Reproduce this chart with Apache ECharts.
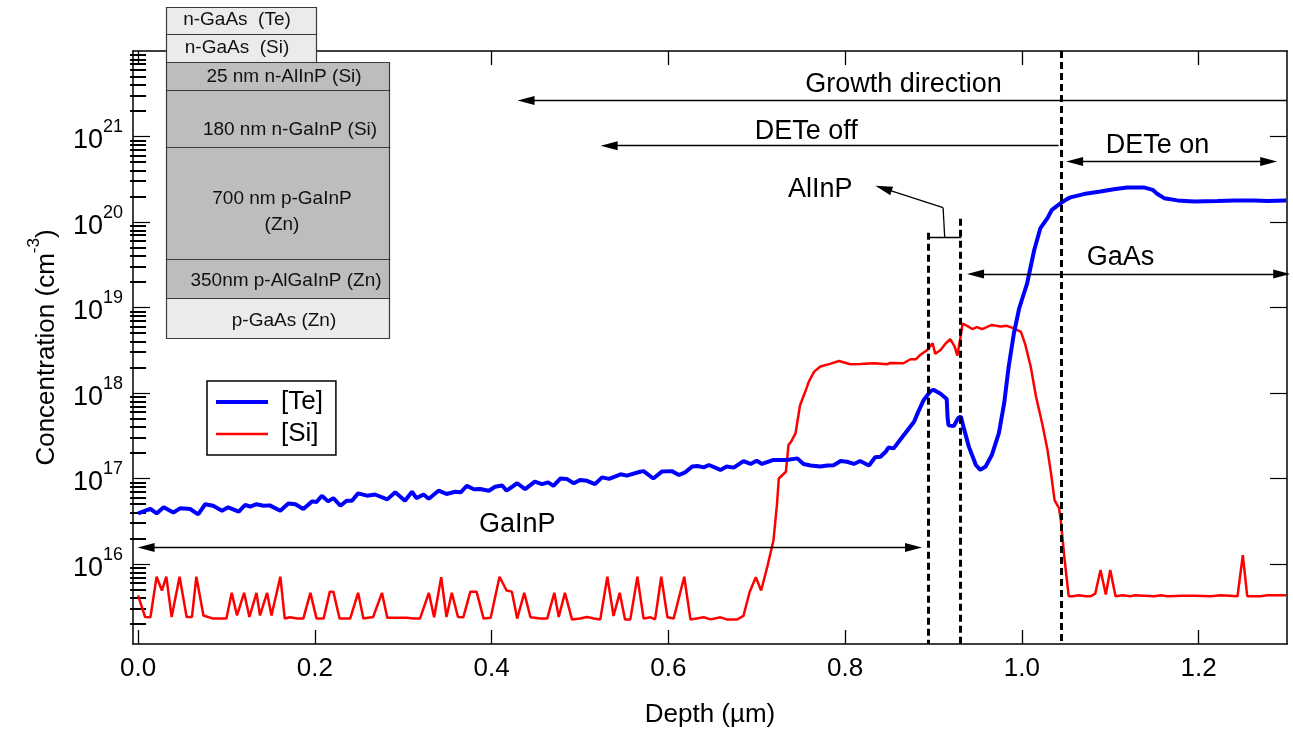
<!DOCTYPE html>
<html>
<head>
<meta charset="utf-8">
<script src="https://cdn.jsdelivr.net/npm/echarts@6/dist/echarts.min.js"></script>
<style>
  html, body { margin: 0; padding: 0; background: #fff; }
  #chart { width: 1293px; height: 736px; }
</style>
</head>
<body>
<div id="chart"></div>
<script>
// depth (um), concentration (cm^-3)
const teProfile = [
  [0.000,3.9e16],[0.014,4.4e16],[0.021,3.9e16],[0.029,4.6e16],[0.040,4.0e16],[0.048,4.5e16],[0.059,4.4e16],[0.068,3.8e16],
  [0.076,5.0e16],[0.085,4.8e16],[0.095,4.2e16],[0.102,4.6e16],[0.114,4.1e16],[0.121,4.9e16],[0.127,4.7e16],[0.134,5.0e16],
  [0.142,4.8e16],[0.149,4.85e16],[0.161,4.2e16],[0.170,5.1e16],[0.178,5.0e16],[0.187,4.4e16],[0.197,5.4e16],[0.202,5.3e16],
  [0.208,6.3e16],[0.215,5.4e16],[0.221,5.9e16],[0.229,4.8e16],[0.236,5.5e16],[0.242,5.5e16],[0.249,6.7e16],[0.259,6.3e16],
  [0.268,6.5e16],[0.282,5.7e16],[0.291,6.9e16],[0.302,5.5e16],[0.310,7.0e16],[0.315,5.9e16],[0.323,6.5e16],[0.329,5.8e16],
  [0.340,7.2e16],[0.349,6.6e16],[0.359,7.0e16],[0.365,6.9e16],[0.372,8.2e16],[0.380,7.5e16],[0.387,7.55e16],[0.397,7.2e16],
  [0.404,8.0e16],[0.412,8.3e16],[0.417,7.2e16],[0.429,8.8e16],[0.438,7.5e16],[0.449,9.2e16],[0.457,8.6e16],[0.464,9.0e16],
  [0.470,8.2e16],[0.478,1.0e17],[0.485,9.9e16],[0.493,8.8e16],[0.500,9.6e16],[0.508,9.4e16],[0.517,8.6e16],[0.525,1.03e17],
  [0.533,9.9e16],[0.546,1.12e17],[0.553,1.08e17],[0.568,1.20e17],[0.572,1.22e17],[0.583,1.0e17],[0.593,1.21e17],[0.604,1.22e17],
  [0.612,1.10e17],[0.619,1.18e17],[0.627,1.38e17],[0.633,1.40e17],[0.640,1.35e17],[0.646,1.44e17],[0.659,1.26e17],[0.666,1.38e17],
  [0.674,1.34e17],[0.685,1.60e17],[0.693,1.48e17],[0.700,1.61e17],[0.706,1.48e17],[0.719,1.65e17],[0.734,1.65e17],[0.746,1.72e17],
  [0.753,1.48e17],[0.761,1.42e17],[0.772,1.38e17],[0.780,1.42e17],[0.787,1.43e17],[0.795,1.60e17],[0.802,1.57e17],[0.810,1.48e17],
  [0.817,1.60e17],[0.827,1.42e17],[0.834,1.77e17],[0.840,1.80e17],[0.846,2.06e17],[0.849,2.3e17],[0.855,2.25e17],[0.863,2.9e17],
  [0.870,3.6e17],[0.878,4.6e17],[0.883,6.1e17],[0.889,8.3e17],[0.897,1.06e18],[0.900,1.09e18],[0.908,9.8e17],[0.915,8.5e17],
  [0.916,5.1e17],[0.917,4.2e17],[0.923,4.1e17],[0.928,5.1e17],[0.931,5.3e17],[0.934,4.0e17],[0.940,2.36e17],[0.948,1.44e17],
  [0.953,1.26e17],[0.959,1.38e17],[0.966,1.88e17],[0.974,3.4e17],[0.980,7.6e17],[0.985,2.0e18],[0.991,5.0e18],[0.997,9.8e18],
  [1.006,1.92e19],[1.014,4.7e19],[1.021,8.5e19],[1.029,1.11e20],[1.034,1.39e20],[1.044,1.66e20],[1.051,1.85e20],[1.055,1.94e20],
  [1.070,2.12e20],[1.089,2.27e20],[1.104,2.42e20],[1.119,2.53e20],[1.138,2.54e20],[1.148,2.38e20],[1.153,2.14e20],[1.161,1.90e20],
  [1.176,1.79e20],[1.195,1.74e20],[1.221,1.76e20],[1.240,1.79e20],[1.263,1.79e20],[1.278,1.76e20],[1.299,1.79e20]
];

const siProfile = [
  [0.000,4.3e15],[0.008,2.4e15],[0.014,2.38e15],[0.021,7.1e15],[0.027,4.9e15],[0.032,7.1e15],[0.038,2.4e15],[0.047,7.1e15],
  [0.055,2.4e15],[0.061,2.4e15],[0.066,7.1e15],[0.074,2.5e15],[0.085,2.3e15],[0.100,2.3e15],[0.106,4.6e15],[0.112,2.5e15],
  [0.120,4.6e15],[0.126,2.4e15],[0.134,4.6e15],[0.138,2.5e15],[0.146,4.6e15],[0.151,2.5e15],[0.161,7.1e15],[0.166,2.3e15],
  [0.172,2.38e15],[0.180,2.3e15],[0.187,2.3e15],[0.195,4.6e15],[0.202,2.3e15],[0.210,2.3e15],[0.217,4.75e15],[0.221,4.75e15],
  [0.228,2.3e15],[0.240,2.3e15],[0.249,4.6e15],[0.255,2.3e15],[0.266,2.4e15],[0.276,4.6e15],[0.282,2.35e15],[0.293,2.35e15],
  [0.304,2.35e15],[0.312,2.3e15],[0.319,2.3e15],[0.329,4.6e15],[0.335,2.38e15],[0.343,7.0e15],[0.349,2.4e15],[0.355,4.6e15],
  [0.362,2.4e15],[0.368,2.38e15],[0.376,4.75e15],[0.383,4.75e15],[0.391,2.3e15],[0.399,2.35e15],[0.409,7.1e15],[0.417,4.9e15],
  [0.423,4.75e15],[0.429,2.3e15],[0.437,4.6e15],[0.444,2.38e15],[0.455,2.3e15],[0.463,2.3e15],[0.471,4.6e15],[0.476,2.4e15],
  [0.483,4.6e15],[0.491,2.25e15],[0.500,2.3e15],[0.508,2.4e15],[0.516,2.3e15],[0.523,2.25e15],[0.531,7.1e15],[0.538,2.47e15],
  [0.545,4.6e15],[0.551,2.25e15],[0.557,2.25e15],[0.565,7.1e15],[0.572,2.3e15],[0.580,2.38e15],[0.585,2.25e15],[0.592,7.1e15],
  [0.599,2.38e15],[0.606,2.3e15],[0.618,7.1e15],[0.625,2.25e15],[0.640,2.38e15],[0.648,2.25e15],[0.659,2.38e15],[0.666,2.25e15],
  [0.678,2.25e15],[0.685,2.47e15],[0.692,4.7e15],[0.699,7.0e15],[0.705,4.9e15],[0.712,9.3e15],[0.719,1.9e16],[0.723,5.1e16],
  [0.725,1.0e17],[0.733,1.2e17],[0.736,2.47e17],[0.739,2.7e17],[0.744,3.4e17],[0.749,7.2e17],[0.755,1.04e18],[0.759,1.36e18],
  [0.765,1.78e18],[0.772,2.04e18],[0.783,2.19e18],[0.793,2.37e18],[0.806,2.17e18],[0.817,2.19e18],[0.833,2.23e18],[0.848,2.17e18],
  [0.851,2.25e18],[0.866,2.23e18],[0.874,2.48e18],[0.880,2.48e18],[0.885,2.79e18],[0.893,3.19e18],[0.899,3.82e18],[0.902,2.87e18],
  [0.908,3.19e18],[0.914,3.82e18],[0.919,4.26e18],[0.924,3.49e18],[0.927,2.74e18],[0.931,4.78e18],[0.933,6.5e18],[0.938,6.1e18],
  [0.944,5.6e18],[0.949,5.9e18],[0.955,5.6e18],[0.966,6.25e18],[0.976,6.0e18],[0.983,6.1e18],[0.991,5.7e18],[0.999,5.2e18],
  [1.004,3.65e18],[1.010,2.04e18],[1.016,9.1e17],[1.023,4.4e17],[1.029,2.16e17],[1.033,1.15e17],[1.037,5.6e16],[1.042,4.5e16],
  [1.044,3.3e16],[1.048,1.22e16],[1.053,4.2e15],[1.057,4.2e15],[1.065,4.3e15],[1.072,4.2e15],[1.078,4.2e15],[1.083,4.5e15],
  [1.089,8.5e15],[1.095,4.4e15],[1.100,8.5e15],[1.106,4.2e15],[1.114,4.3e15],[1.123,4.2e15],[1.127,4.3e15],[1.150,4.2e15],
  [1.157,4.3e15],[1.165,4.2e15],[1.182,4.25e15],[1.195,4.25e15],[1.214,4.2e15],[1.225,4.3e15],[1.244,4.2e15],[1.250,1.27e16],
  [1.255,4.2e15],[1.270,4.2e15],[1.278,4.3e15],[1.299,4.3e15]
];

const xTicks = [0, 0.2, 0.4, 0.6, 0.8, 1.0, 1.2];
const yTicks = [1e16, 1e17, 1e18, 1e19, 1e20, 1e21];

// layer boundaries (um) marked with dashed lines
const boundaries = [0.894, 0.930, 1.045];

// sample layer stack, top to bottom
const layerNames = [
  ['n-GaAs  (Te)'], ['n-GaAs  (Si)'], ['25 nm n-AlInP (Si)'], ['180 nm n-GaInP (Si)'],
  ['700 nm p-GaInP', '(Zn)'], ['350nm p-AlGaInP (Zn)'], ['p-GaAs (Zn)']
];

const FONT = '"Liberation Sans", Arial, sans-serif';
const X0 = -0.0057, X1 = 1.3, Y0 = 1.16e15, Y1 = 1e22;

const yMinor = [];
for (let e = 15; e < 22; e++) {
  for (let k = 2; k <= 9; k++) yMinor.push(k * Math.pow(10, e));
}

function yLabel(v) {
  return '{b|10}{s|' + Math.round(Math.log10(v)) + '}';
}

// arrow helpers: head is a triangle centred on the end point
const head = { symbol: 'triangle', symbolSize: [9, 17] };
function arrow(x1, y1, x2, y2, both) {
  const a = { coord: [x1, y1] };
  if (both) Object.assign(a, head); else a.symbol = 'none';
  return [a, Object.assign({ coord: [x2, y2] }, head)];
}
function seg(x1, y1, x2, y2, style) {
  const a = { coord: [x1, y1], symbol: 'none' };
  const b = { coord: [x2, y2], symbol: 'none' };
  if (style) a.lineStyle = style;
  return [a, b];
}

const dash = { type: [7, 4], width: 3, color: '#000' };

const annoLines = [
  arrow(1.3, 2.64e21, 0.439, 2.64e21),              // growth direction
  arrow(1.0416, 7.8e20, 0.533, 7.8e20),              // DETe off
  arrow(1.0597, 5.1e20, 1.2793, 5.1e20, true),       // DETe on
  arrow(0.9476, 2.47e19, 1.294, 2.47e19, true),      // GaAs
  arrow(0.0091, 1.56e16, 0.8774, 1.56e16, true),     // GaInP
  seg(0.8932, 6.65e19, 0.9314, 6.65e19),             // AlInP bracket
  seg(0.9127, 6.65e19, 0.9109, 1.47e20),
  arrow(0.9109, 1.47e20, 0.8435, 2.47e20),
  seg(boundaries[0], 7.5e19, boundaries[0], Y0, dash),
  seg(boundaries[1], 1.09e20, boundaries[1], Y0, dash),
  seg(boundaries[2], Y1, boundaries[2], Y0, dash)
];

const annoTexts = [
  { name: 'Growth direction', coord: [0.866, 4.0e21] },
  { name: 'DETe off', coord: [0.756, 1.14e21] },
  { name: 'DETe on', coord: [1.1536, 7.8e20] },
  { name: 'AlInP', coord: [0.772, 2.38e20] },
  { name: 'GaAs', coord: [1.1117, 3.8e19] },
  { name: 'GaInP', coord: [0.429, 2.86e16] }
];

// layer stack drawing (inset schematic, pixel space)
const stackBoxes = [
  [166, 7, 150, 27, '#ebebeb'],
  [166, 34, 150, 28, '#ebebeb'],
  [166, 62, 223, 28, '#bdbdbd'],
  [166, 90, 223, 57, '#bdbdbd'],
  [166, 147, 223, 112, '#bdbdbd'],
  [166, 259, 223, 39, '#bdbdbd'],
  [166, 298, 223, 40, '#ebebeb']
];
const stackTextPos = [[[237, 20]], [[237, 48]], [[284, 77]], [[290, 130]], [[282, 199], [282, 225]], [[286, 281]], [[284, 321]]];

const graphics = [];
stackBoxes.forEach((b, i) => {
  graphics.push({
    type: 'rect', z: 100, shape: { x: b[0] + 0.5, y: b[1] + 0.5, width: b[2], height: b[3] },
    style: { fill: b[4], stroke: '#3a3a3a', lineWidth: 1.2 }
  });
  layerNames[i].forEach((t, j) => {
    const p = stackTextPos[i][j];
    graphics.push({
      type: 'text', z: 101, x: p[0], y: p[1],
      style: { text: t, fill: '#111', font: '19px ' + FONT, textAlign: 'center', textVerticalAlign: 'middle' }
    });
  });
});

const axisLine = { show: true, onZero: false, lineStyle: { color: '#000', width: 1.5 } };

const chart = echarts.init(document.getElementById('chart'));
chart.setOption({
  animation: false,
  textStyle: { fontFamily: FONT },
  grid: { left: 133, right: 6, top: 51, bottom: 92 },
  legend: {
    data: [
      { name: '[Te]', icon: 'path://M0 0H52V4H0Z' },
      { name: '[Si]', icon: 'path://M0 0H52V2.5H0Z' }
    ],
    orient: 'vertical',
    left: 207, top: 381,
    itemWidth: 52, itemHeight: 14, itemGap: 6,
    padding: [8, 13, 8, 9],
    borderColor: '#000', borderWidth: 1.5,
    textStyle: { fontSize: 26, color: '#000', fontFamily: FONT, padding: [0, 0, 0, 8] }
  },
  xAxis: [
    {
      type: 'value', min: X0, max: X1, position: 'bottom',
      name: 'Depth (µm)', nameLocation: 'middle', nameGap: 58,
      nameTextStyle: { fontSize: 26, color: '#000', fontFamily: FONT },
      axisLine: axisLine,
      axisTick: { show: true, inside: true, length: 14, customValues: xTicks, lineStyle: { color: '#000', width: 1.3 } },
      axisLabel: { customValues: xTicks, formatter: v => v.toFixed(1), fontSize: 26, color: '#000', fontFamily: FONT, margin: 12 },
      splitLine: { show: false }
    },
    {
      type: 'value', min: X0, max: X1, position: 'top',
      axisLine: axisLine,
      axisTick: { show: true, inside: true, length: 14, customValues: xTicks, lineStyle: { color: '#000', width: 1.3 } },
      axisLabel: { show: false }, splitLine: { show: false }
    }
  ],
  yAxis: [
    {
      type: 'log', min: Y0, max: Y1, position: 'left',
      name: '{a|Concentration (cm}{s|-3}{a|)}', nameLocation: 'middle', nameGap: 73, nameRotate: 90,
      nameTextStyle: {
        color: '#000', fontFamily: FONT,
        rich: {
          a: { fontSize: 26, fontFamily: FONT, color: '#000', lineHeight: 34, verticalAlign: 'bottom' },
          s: { fontSize: 17, fontFamily: FONT, color: '#000', lineHeight: 34, verticalAlign: 'top' }
        }
      },
      axisLine: axisLine,
      axisTick: { show: true, inside: true, length: 17, customValues: yTicks, lineStyle: { color: '#000', width: 1.2 } },
      axisLabel: {
        customValues: yTicks, formatter: yLabel, margin: 10, color: '#000',
        rich: {
          b: { fontSize: 27, fontFamily: FONT, color: '#000', lineHeight: 36, verticalAlign: 'bottom' },
          s: { fontSize: 18, fontFamily: FONT, color: '#000', lineHeight: 36, verticalAlign: 'top' }
        }
      },
      splitLine: { show: false }
    },
    {
      type: 'log', min: Y0, max: Y1, position: 'left',
      axisLine: { show: false },
      axisTick: { show: true, inside: true, length: 8, customValues: yMinor, lineStyle: { color: '#000', width: 2 } },
      axisLabel: { show: false }, splitLine: { show: false }
    },
    {
      type: 'log', min: Y0, max: Y1, position: 'right',
      axisLine: axisLine,
      axisTick: { show: true, inside: true, length: 17, customValues: yTicks, lineStyle: { color: '#000', width: 1.2 } },
      axisLabel: { show: false }, splitLine: { show: false }
    },
    {
      type: 'log', min: Y0, max: Y1, position: 'right',
      axisLine: { show: false },
      axisTick: { show: true, inside: true, length: 8, customValues: yMinor, lineStyle: { color: '#000', width: 2 } },
      axisLabel: { show: false }, splitLine: { show: false }
    }
  ],
  series: [
    {
      name: '[Si]', type: 'line', data: siProfile, symbol: 'none', z: 2,
      lineStyle: { color: '#ff0000', width: 2.5 }, itemStyle: { color: '#ff0000' }
    },
    {
      name: '[Te]', type: 'line', data: teProfile, symbol: 'none', z: 3,
      lineStyle: { color: '#0000ff', width: 4 }, itemStyle: { color: '#0000ff' }
    },
    {
      name: 'notes', type: 'line', data: [], z: 4,
      markLine: {
        silent: true, animation: false,
        label: { show: false },
        emphasis: { disabled: true },
        lineStyle: { color: '#000', width: 1.3, type: 'solid' },
        itemStyle: { color: '#000' },
        data: annoLines
      },
      markPoint: {
        silent: true, animation: false,
        symbol: 'circle', symbolSize: 1,
        itemStyle: { color: 'rgba(0,0,0,0)' },
        label: { show: true, position: 'inside', color: '#000', fontSize: 27, fontFamily: FONT, formatter: p => p.name },
        data: annoTexts
      }
    }
  ],
  graphic: graphics
});
</script>
</body>
</html>
